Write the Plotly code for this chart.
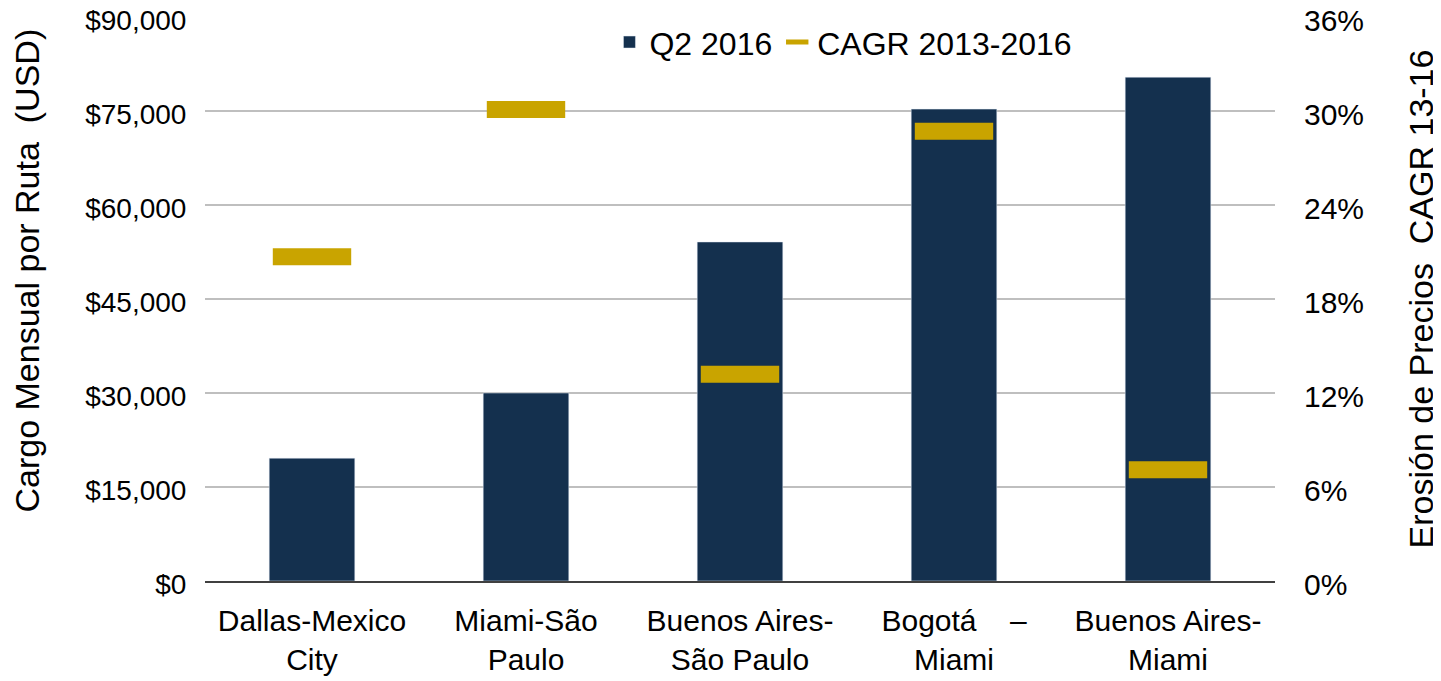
import plotly.graph_objects as go

routes = [
    "Dallas-Mexico<br>City",
    "Miami-São<br>Paulo",
    "Buenos Aires-<br>São Paulo",
    "Bogotá\u00a0\u00a0\u00a0\u00a0–<br>Miami",
    "Buenos Aires-<br>Miami",
]
charge_q2_2016 = [19600, 30000, 54100, 75300, 80400]
cagr_2013_2016 = [0.207, 0.301, 0.132, 0.287, 0.071]

usd_ticks = [0, 15000, 30000, 45000, 60000, 75000, 90000]
usd_labels = ["$0", "$15,000", "$30,000", "$45,000", "$60,000", "$75,000", "$90,000"]
pct_ticks = [0, 0.06, 0.12, 0.18, 0.24, 0.30, 0.36]
pct_labels = ["0%", "6%", "12%", "18%", "24%", "30%", "36%"]

NAVY = "#14304E"
GOLD = "#C9A400"
FONT = "Liberation Sans, Arial, Helvetica, sans-serif"

fig = go.Figure()

fig.add_trace(go.Bar(
    x=routes,
    y=charge_q2_2016,
    name="Q2 2016",
    marker_color=NAVY,
    width=0.4,
))

# line-ew markers: drawn length is 1.4 x size
fig.add_trace(go.Scatter(
    x=routes,
    y=cagr_2013_2016,
    name="CAGR 2013-2016",
    mode="markers",
    yaxis="y2",
    marker=dict(symbol="line-ew", size=56, color=GOLD,
                line=dict(color=GOLD, width=17)),
))

# page body adds an 8px margin, so the figure is 8px smaller than the window
fig.update_layout(
    width=1433,
    height=673,
    font=dict(family=FONT, size=30, color="#000000"),
    plot_bgcolor="white",
    paper_bgcolor="white",
    margin=dict(l=197, r=166, t=9, b=100, autoexpand=False),
    bargap=0.6,
    showlegend=True,
    legend=dict(
        orientation="h",
        x=0.378, xanchor="left",
        y=1.004, yanchor="top",
        bgcolor="white",
        font=dict(size=32),
        itemclick=False,
    ),
    xaxis=dict(
        showgrid=False,
        showline=True,
        linecolor="#404040",
        linewidth=2,
        ticks="outside",
        ticklen=12,
        tickcolor="rgba(0,0,0,0)",
        tickfont=dict(size=30),
    ),
    yaxis=dict(
        range=[0, 90000],
        tickvals=usd_ticks,
        ticktext=usd_labels,
        ticklabeloverflow="allow",
        ticklabelshift=3,
        showgrid=True,
        gridcolor="#BFBFBF",
        gridwidth=1.5,
        zeroline=False,
        ticks="outside",
        ticklen=12,
        tickcolor="rgba(0,0,0,0)",
        tickfont=dict(size=28),
        title=dict(text="\u200b" + "\u00a0" * 6 + "Cargo Mensual por Ruta\u00a0\u00a0(USD)",
                   font=dict(size=34), standoff=37),
    ),
    yaxis2=dict(
        range=[0, 0.36],
        tickvals=pct_ticks,
        ticktext=pct_labels,
        ticklabeloverflow="allow",
        ticklabelshift=3,
        overlaying="y",
        side="right",
        showgrid=False,
        zeroline=False,
        ticks="outside",
        ticklen=22,
        tickcolor="rgba(0,0,0,0)",
        tickfont=dict(size=30),
        title=dict(text="Erosión de Precios\u00a0\u00a0CAGR 13-16", font=dict(size=34), standoff=46),
    ),
)

fig.write_html("out.html")
